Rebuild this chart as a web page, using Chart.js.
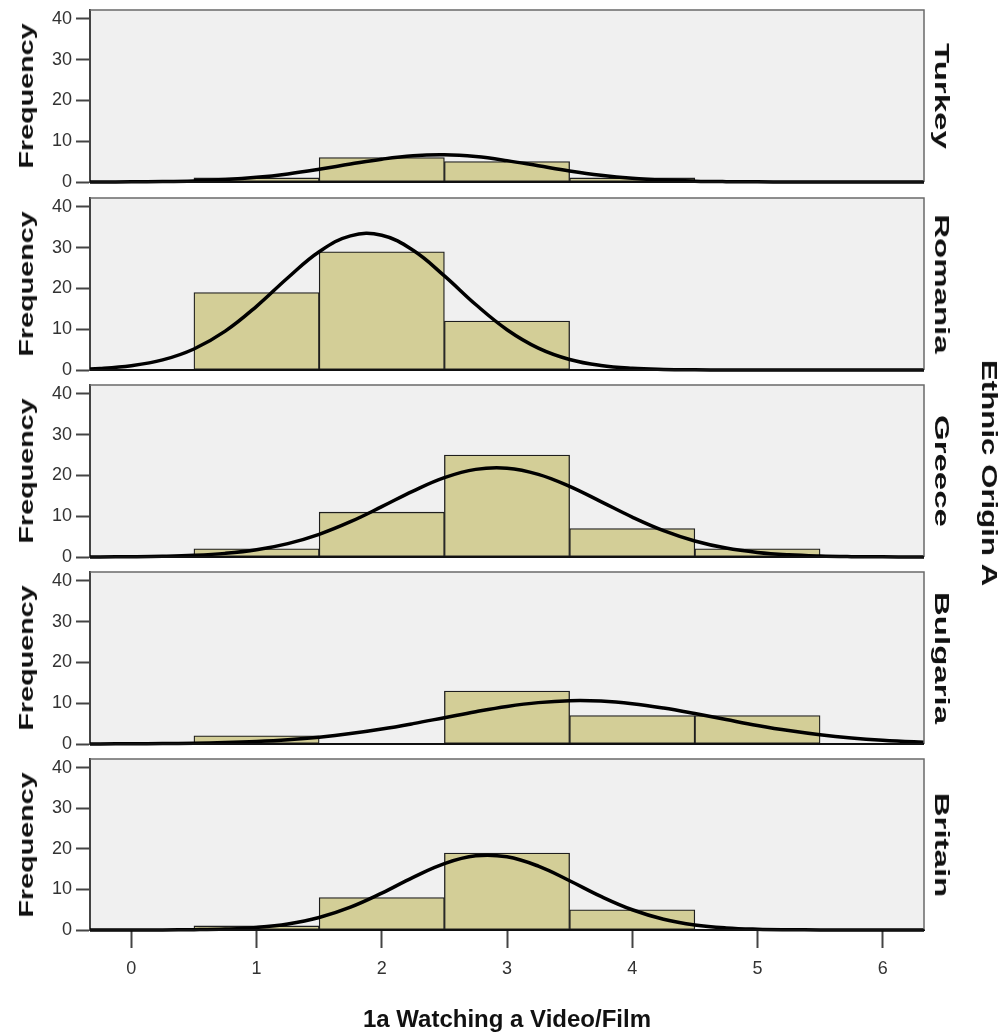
<!DOCTYPE html>
<html><head><meta charset="utf-8">
<script src="https://cdn.jsdelivr.net/npm/chart.js@4.4.1/dist/chart.umd.min.js"></script>
<style>
html,body{margin:0;padding:0;background:#fff;}
#wrap{position:relative;width:1008px;height:1035px;overflow:hidden;background:#fff;}
#wrap canvas{position:absolute;left:0;}
.vlab{position:absolute;white-space:nowrap;font-family:"Liberation Sans",Arial,sans-serif;font-weight:bold;color:#111;line-height:1;}
</style></head><body><div id="wrap"></div>
<script>
// ---- data ----
const countries = ["Turkey", "Romania", "Greece", "Bulgaria", "Britain"];
const binCenters = [1, 2, 3, 4, 5];
const turkeyFreq   = [1, 6, 5, 1, null];
const romaniaFreq  = [19, 29, 12, null, null];
const greeceFreq   = [2, 11, 25, 7, 2];
const bulgariaFreq = [2, null, 13, 7, 7];
const britainFreq  = [1, 8, 19, 5, null];

const curveX = [-0.5,-0.25,0,0.25,0.5,0.75,1,1.25,1.5,1.75,2,2.25,2.5,2.75,3,3.25,3.5,3.75,4,4.25,4.5,4.75,5,5.25,5.5,5.75,6,6.25,6.5];
const turkeyCurve   = [0.005,0.015,0.044,0.116,0.275,0.589,1.138,1.981,3.108,4.395,5.60,6.44,6.67,6.23,5.24,3.98,2.72,1.68,0.93,0.467,0.211,0.086,0.032,0.010,0.003,0.001,0,0,0];
const romaniaCurve  = [0.13,0.39,1.05,2.47,5.16,9.54,15.63,22.64,29.02,32.92,33.05,29.37,23.09,16.06,9.89,5.38,2.59,1.11,0.42,0.14,0.04,0.01,0,0,0,0,0,0,0];
const greeceCurve   = [0.008,0.023,0.066,0.17,0.405,0.89,1.78,3.29,5.57,8.66,12.35,16.18,19.47,21.50,21.79,20.28,17.33,13.59,9.79,6.47,3.93,2.19,1.12,0.53,0.23,0.09,0.033,0.01,0.003];
const bulgariaCurve = [0.009,0.021,0.046,0.095,0.19,0.35,0.625,1.05,1.68,2.55,3.67,5.00,6.46,7.92,9.21,10.15,10.62,10.53,9.90,8.83,7.47,6.00,4.56,3.29,2.25,1.46,0.90,0.53,0.29];
const britainCurve  = [0,0.001,0.006,0.024,0.081,0.242,0.64,1.49,3.09,5.64,9.10,13.00,16.40,18.31,18.06,15.76,12.16,8.29,5.00,2.67,1.26,0.52,0.19,0.063,0.018,0.005,0.001,0,0];

const xTicks = [0, 1, 2, 3, 4, 5, 6];
const yTicks = [0, 10, 20, 30, 40];
const xAxisTitle = "1a Watching a Video/Film";
const yAxisTitle = "Frequency";
const panelVarTitle = "Ethnic Origin A";

const freqs = [turkeyFreq, romaniaFreq, greeceFreq, bulgariaFreq, britainFreq];
const curves = [turkeyCurve, romaniaCurve, greeceCurve, bulgariaCurve, britainCurve];

// ---- layout ----
const W = 1008, H = 1035;
const plotTops = [10, 198, 385, 572, 759];
const plotH = 172;
const plotLeft = 90, plotRight = 924;
const wrap = document.getElementById('wrap');

const sans = '"Liberation Sans",Arial,sans-serif';

const framePlugin = {
  id: 'frame',
  beforeDraw(chart) {
    const {ctx, chartArea: a} = chart;
    ctx.save();
    ctx.fillStyle = '#f0f0f0';
    ctx.fillRect(a.left, a.top, a.right - a.left, a.bottom - a.top);
    ctx.restore();
  },
  afterDraw(chart) {
    const {ctx, chartArea: a} = chart;
    ctx.save();
    ctx.strokeStyle = '#6a6a6a';
    ctx.lineWidth = 1.5;
    ctx.beginPath();
    ctx.moveTo(a.left, a.top); ctx.lineTo(a.right, a.top); ctx.lineTo(a.right, a.bottom);
    ctx.stroke();
    ctx.strokeStyle = '#111';
    ctx.lineWidth = 2;
    ctx.beginPath();
    ctx.moveTo(a.left, a.bottom); ctx.lineTo(a.right, a.bottom);
    ctx.stroke();
    ctx.restore();
  }
};

function addVLabel(text, cx, cy, size, rot, sx) {
  const el = document.createElement('div');
  el.className = 'vlab';
  el.textContent = text;
  el.style.fontSize = size + 'px';
  el.style.left = cx + 'px';
  el.style.top = cy + 'px';
  el.style.transform = 'translate(-50%,-50%) rotate(' + rot + 'deg) scaleX(' + sx + ')';
  wrap.appendChild(el);
}

countries.forEach((name, i) => {
  const isLast = i === countries.length - 1;
  const top = plotTops[i];
  const cTop = top - 10;
  const cH = isLast ? H - cTop : plotH + 20;
  const canvas = document.createElement('canvas');
  canvas.width = W; canvas.height = cH;
  canvas.style.top = cTop + 'px';
  wrap.appendChild(canvas);

  const barData = binCenters.map((x, k) => ({x: x, y: freqs[i][k]})).filter(d => d.y !== null);
  const lineData = curveX.map((x, k) => ({x: x, y: curves[i][k]}));

  new Chart(canvas, {
    type: 'bar',
    data: {
      datasets: [
        {
          type: 'line', data: lineData, borderColor: '#000', borderWidth: 3.5,
          pointRadius: 0, tension: 0.4, order: 0,
          clip: {left: 0, top: 0, right: 0, bottom: 5}
        },
        {
          type: 'bar', data: barData, backgroundColor: '#d3ce97', borderColor: '#1e1e1e',
          borderWidth: 1.3, borderSkipped: false, barPercentage: 1, categoryPercentage: 1,
          grouped: false, order: 1
        }
      ]
    },
    options: {
      responsive: false, animation: false, devicePixelRatio: 1,
      layout: {padding: {top: 10, bottom: isLast ? 0 : 10, left: 0, right: W - plotRight}},
      plugins: {legend: {display: false}, tooltip: {enabled: false}},
      scales: {
        x: {
          type: 'linear', min: -0.33, max: 6.33, offset: false, display: isLast,
          afterBuildTicks: s => { s.ticks = xTicks.map(v => ({value: v})); },
          afterFit: s => { if (isLast) s.height = H - (plotTops[4] + plotH - 1); s.paddingLeft = 0; s.paddingRight = 0; },
          grid: {display: true, drawOnChartArea: false, drawTicks: true, tickLength: 18, tickWidth: 2, tickColor: '#444', offset: false},
          border: {display: true, color: '#111', width: 2},
          ticks: {color: '#333', padding: 10, font: {family: sans, size: 18}, maxRotation: 0},
          title: {display: true, text: xAxisTitle, color: '#111', padding: {top: 0, bottom: 0},
                  font: {family: sans, size: 24, weight: 'bold'}}
        },
        y: {
          type: 'linear', min: 0, max: 42.2,
          afterBuildTicks: s => { s.ticks = yTicks.map(v => ({value: v})); },
          afterFit: s => { s.width = plotLeft; s.paddingTop = 0; s.paddingBottom = 0; },
          grid: {display: true, drawOnChartArea: false, drawTicks: true, tickLength: 14, tickWidth: 2, tickColor: '#444'},
          border: {display: true, color: '#444', width: 2},
          ticks: {color: '#333', padding: 4, font: {family: sans, size: 18}}
        }
      }
    },
    plugins: [framePlugin]
  });

  const cy = top + plotH / 2;
  addVLabel(yAxisTitle, 26, cy, 20, -90, 1.435);
  addVLabel(name, 942, cy, 20, 90, 1.65);
});

addVLabel(panelVarTitle, 989, 473, 22, 90, 1.42);
</script></body></html>
